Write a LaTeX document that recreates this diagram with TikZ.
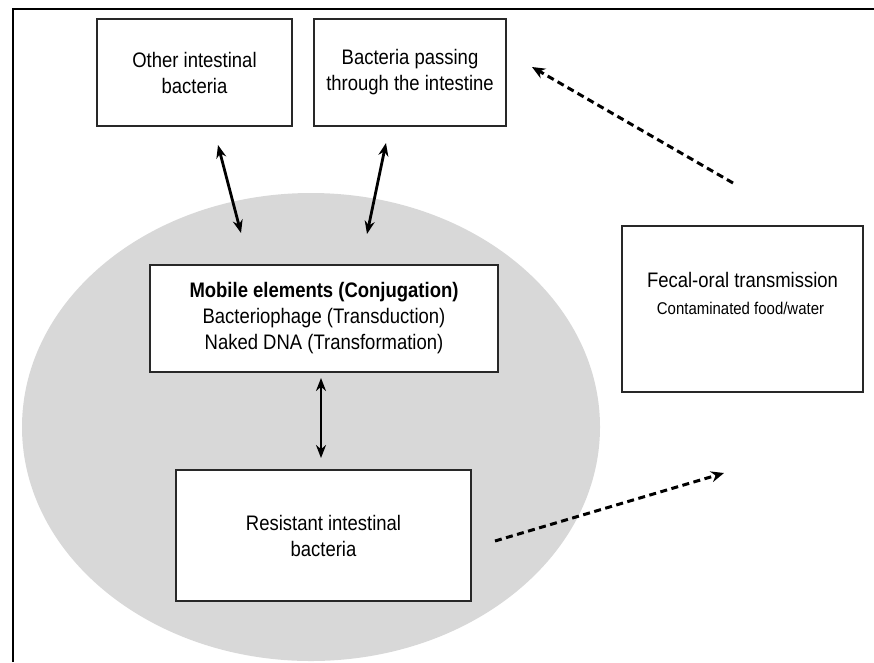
\documentclass[tikz,border=0pt]{standalone}
\usepackage{fontspec}
\setmainfont{Liberation Sans}[FakeStretch=0.88]
\usetikzlibrary{arrows.meta}
\definecolor{ovalgray}{RGB}{216,216,216}
\definecolor{boxline}{RGB}{40,40,40}
\tikzset{
  boxnode/.style={draw=boxline, line width=2.2pt, fill=white, rectangle, inner sep=0pt, align=center,
     font=\fontsize{21}{26}\selectfont},
  dblarrow/.style={line width=2.8pt, {Stealth[length=13pt,width=10pt]}-{Stealth[length=13pt,width=10pt]}},
  dasharrow/.style={line width=3pt, dash pattern=on 7pt off 4.5pt, -{Stealth[length=13pt,width=11pt]}},
  txt/.style={inner sep=0pt, align=center}
}
\begin{document}
\begin{tikzpicture}[x=1pt,y=-1pt]
\useasboundingbox (0,0) rectangle (874,662);
% frame
\draw[line width=2.5pt] (13,662) -- (13,9) -- (874,9);
% oval
\fill[ovalgray] (311,427) ellipse [x radius=289pt, y radius=234pt];
% boxes
\node[boxnode, minimum width=195pt, minimum height=107pt] (other) at (194.5,72.5) {Other intestinal\\bacteria};
\node[boxnode, minimum width=192pt, minimum height=107pt] (passing) at (410,72.5) {Bacteria passing\\through the intestine};
\node[boxnode, minimum width=348pt, minimum height=107pt] (mobile) at (324,318.5) {\textbf{Mobile elements (Conjugation)}\\Bacteriophage (Transduction)\\Naked DNA (Transformation)};
\node[boxnode, minimum width=295pt, minimum height=131pt] (resist) at (323.5,535.5) {Resistant intestinal\\bacteria};
\node[boxnode, minimum width=241pt, minimum height=166pt] (fecal) at (742.5,309) {};
\node[txt, font=\fontsize{21}{28}\selectfont] (fecaltext) at (742.5,280) {Fecal-oral transmission};
\node[txt, font=\fontsize{17}{20}\selectfont] (fecalsub) at (740.5,308) {Contaminated food/water};
% arrow end points
\coordinate (a1s) at (218,145);
\coordinate (a1e) at (241,233);
\coordinate (a2s) at (386,143);
\coordinate (a2e) at (367,234);
\coordinate (a3s) at (321,378);
\coordinate (a3e) at (321,458);
\coordinate (d1s) at (733,183);
\coordinate (d1e) at (532,67);
\coordinate (d2s) at (495,541);
\coordinate (d2e) at (724,473);
% connectors
\draw[dblarrow] (a1s) -- (a1e);
\draw[dblarrow] (a2s) -- (a2e);
\draw[dblarrow] (a3s) -- (a3e);
\draw[dasharrow] (d1s) -- (d1e);
\draw[dasharrow] (d2s) -- (d2e);
\end{tikzpicture}
\end{document}
